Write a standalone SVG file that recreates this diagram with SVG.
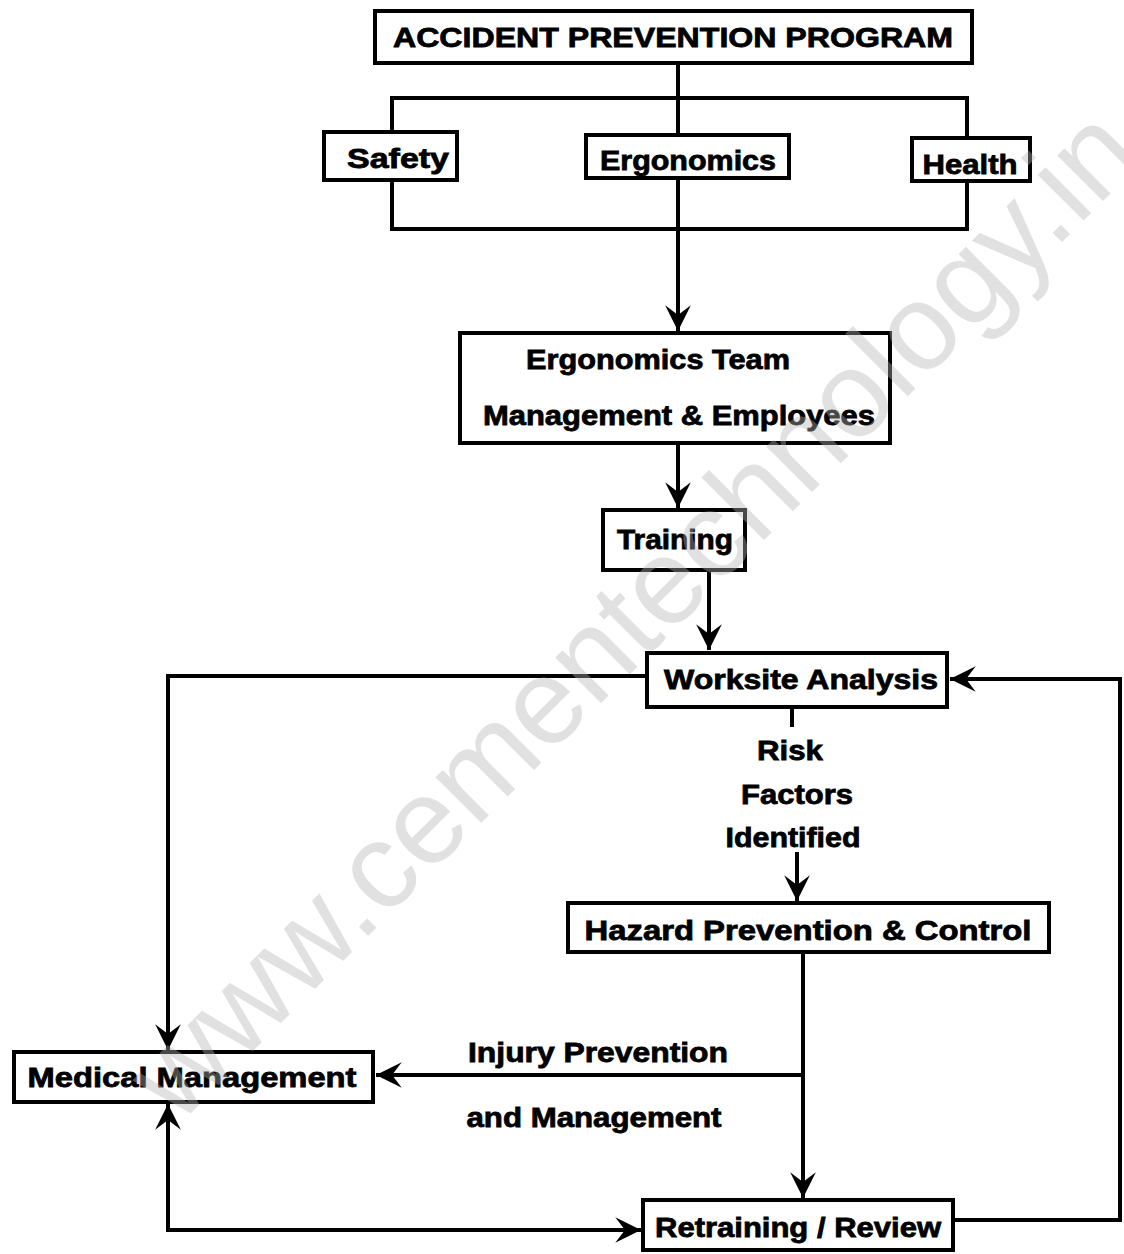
<svg xmlns="http://www.w3.org/2000/svg" width="1124" height="1254" viewBox="0 0 1124 1254">
<style>
.box{fill:#fff;stroke:#000;stroke-width:4}
.ln{fill:none;stroke:#000;stroke-width:4;stroke-linejoin:miter}
.t{font-family:"Liberation Sans",Arial,sans-serif;font-weight:bold;font-size:28px;fill:#000;stroke:#000;stroke-width:0.8;text-anchor:middle}
.wm{font-family:"Liberation Sans",Arial,sans-serif;font-size:122px;fill:#b5b5b5;fill-opacity:0.4}
</style>
<defs>
<marker id="ah" markerUnits="userSpaceOnUse" markerWidth="30" markerHeight="30" viewBox="-26 -14 28 28" refX="0" refY="0" orient="auto">
<path d="M0,0 L-24,-12 L-15,0 L-24,12 Z" fill="#000"/>
</marker>
</defs>
<rect width="1124" height="1254" fill="#fff"/>

<g id="connectors">
<path class="ln" d="M678,63 V135"/>
<path class="ln" d="M390,98 H969"/>
<path class="ln" d="M392,98 V132"/>
<path class="ln" d="M967,98 V138"/>
<path class="ln" d="M392,180 V229 H967 V181"/>
<path class="ln" d="M678,178 V331" marker-end="url(#ah)"/>
<path class="ln" d="M678,443 V508" marker-end="url(#ah)"/>
<path class="ln" d="M709,570 V650" marker-end="url(#ah)"/>
<path class="ln" d="M792,707 V727"/>
<path class="ln" d="M797,852 V901" marker-end="url(#ah)"/>
<path class="ln" d="M647,676 H168 V1050" marker-end="url(#ah)"/>
<path class="ln" d="M953,1220 H1120 V679 H950" marker-end="url(#ah)"/>
<path class="ln" d="M803,952 V1198" marker-end="url(#ah)"/>
<path class="ln" d="M803,1075 H376" marker-end="url(#ah)"/>
<path class="ln" d="M643,1230 H168 V1104" marker-end="url(#ah)"/>
<path class="ln" d="M168,1230 H641" marker-end="url(#ah)"/>
</g>

<g id="accident-prevention-program">
<rect class="box" x="375" y="11" width="597" height="52"/>
<text class="t" x="673" y="47" font-size="27" textLength="560" lengthAdjust="spacingAndGlyphs">ACCIDENT PREVENTION PROGRAM</text>
</g>
<g id="safety">
<rect class="box" x="324" y="132" width="133" height="48"/>
<text class="t" x="398" y="168" font-size="31" textLength="102" lengthAdjust="spacingAndGlyphs">Safety</text>
</g>
<g id="ergonomics">
<rect class="box" x="586" y="135" width="203" height="43"/>
<text class="t" x="688" y="170" font-size="30" textLength="176" lengthAdjust="spacingAndGlyphs">Ergonomics</text>
</g>
<g id="health">
<rect class="box" x="912" y="138" width="118" height="43"/>
<text class="t" x="970" y="174" font-size="33" textLength="95" lengthAdjust="spacingAndGlyphs">Health</text>
</g>
<g id="ergonomics-team">
<rect class="box" x="460" y="333" width="430" height="110"/>
<text class="t" x="658" y="369" font-size="29" textLength="264" lengthAdjust="spacingAndGlyphs">Ergonomics Team</text>
<text class="t" x="679" y="425" font-size="29" textLength="392" lengthAdjust="spacingAndGlyphs">Management &amp; Employees</text>
</g>
<g id="training">
<rect class="box" x="603" y="510" width="142" height="60"/>
<text class="t" x="675" y="549" font-size="30" textLength="116" lengthAdjust="spacingAndGlyphs">Training</text>
</g>
<g id="worksite-analysis">
<rect class="box" x="647" y="653" width="300" height="54"/>
<text class="t" x="801" y="689" font-size="29" textLength="274" lengthAdjust="spacingAndGlyphs">Worksite Analysis</text>
</g>
<g id="risk-label">
<text class="t" x="790" y="760" font-size="29" textLength="66" lengthAdjust="spacingAndGlyphs">Risk</text>
<text class="t" x="797" y="804" font-size="29" textLength="112" lengthAdjust="spacingAndGlyphs">Factors</text>
<text class="t" x="793" y="847" font-size="29" textLength="135" lengthAdjust="spacingAndGlyphs">Identified</text>
</g>
<g id="hazard-prevention">
<rect class="box" x="568" y="903" width="481" height="49"/>
<text class="t" x="808" y="940" font-size="29" textLength="447" lengthAdjust="spacingAndGlyphs">Hazard Prevention &amp; Control</text>
</g>
<g id="injury-label">
<text class="t" x="598" y="1062" font-size="31" textLength="260" lengthAdjust="spacingAndGlyphs">Injury Prevention</text>
<text class="t" x="594" y="1127" font-size="31" textLength="255" lengthAdjust="spacingAndGlyphs">and Management</text>
</g>
<g id="medical-management">
<rect class="box" x="14" y="1052" width="359" height="50"/>
<text class="t" x="192" y="1087" font-size="29" textLength="329" lengthAdjust="spacingAndGlyphs">Medical Management</text>
</g>
<g id="retraining-review">
<rect class="box" x="643" y="1200" width="310" height="50"/>
<text class="t" x="798" y="1237" font-size="33" textLength="286" lengthAdjust="spacingAndGlyphs">Retraining / Review</text>
</g>

<text class="wm" x="178" y="1126" transform="rotate(-45 178 1126)">www.cementechnology.in</text>
</svg>
